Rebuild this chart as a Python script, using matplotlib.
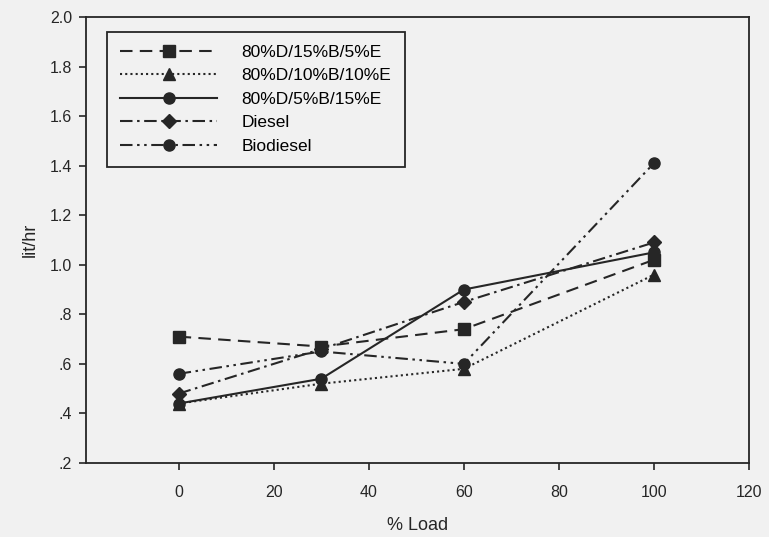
import matplotlib
matplotlib.use("Agg")
import matplotlib.pyplot as plt
from matplotlib.ticker import FuncFormatter

# data
load = [0, 30, 60, 100]
blend_15b_5e = [0.71, 0.67, 0.74, 1.02]
blend_10b_10e = [0.44, 0.52, 0.58, 0.96]
blend_5b_15e = [0.44, 0.54, 0.90, 1.05]
diesel = [0.48, 0.66, 0.85, 1.09]
biodiesel = [0.56, 0.65, 0.60, 1.41]

labels = ["80%D/15%B/5%E", "80%D/10%B/10%E", "80%D/5%B/15%E", "Diesel", "Biodiesel"]
x_ticks = [0, 20, 40, 60, 80, 100, 120]
y_ticks = [0.2, 0.4, 0.6, 0.8, 1.0, 1.2, 1.4, 1.6, 1.8, 2.0]

plt.rcParams["font.family"] = ["Liberation Sans", "DejaVu Sans"]
bg = "#f1f1f1"
ink = "#262626"

fig = plt.figure(figsize=(7.69, 5.37), dpi=100, facecolor=bg)
ax = fig.add_axes([0.1118, 0.1378, 0.8622, 0.8306], facecolor=bg)

styles = [
    dict(marker="s", linestyle=(0, (6, 3.5))),
    dict(marker="^", linestyle=(0, (1, 1.5))),
    dict(marker="o", linestyle="-"),
    dict(marker="D", linestyle=(0, (6, 2.2, 1.2, 2.2)), markersize=7),
    dict(marker="o", linestyle=(0, (6, 2.2, 1.2, 2.2, 1.2, 2.2))),
]
series = [blend_15b_5e, blend_10b_10e, blend_5b_15e, diesel, biodiesel]

for y, lab, st in zip(series, labels, styles):
    kw = dict(color=ink, linewidth=1.5, markersize=8, label=lab)
    kw.update(st)
    ax.plot(load, y, **kw)

ax.set_xlim(-19.5, 120)
ax.set_ylim(0.2, 2.0)
ax.set_xticks(x_ticks)
ax.set_yticks(y_ticks)


def strip_zero(v, pos):
    s = f"{v:.1f}"
    return s[1:] if s.startswith("0") else s


ax.yaxis.set_major_formatter(FuncFormatter(strip_zero))
ax.tick_params(direction="out", length=5, width=1.2, colors=ink, labelsize=11.5)
ax.tick_params(axis="x", pad=11)
ax.tick_params(axis="y", pad=5)
for sp in ax.spines.values():
    sp.set_color(ink)
    sp.set_linewidth(1.3)

ax.set_xlabel("% Load", fontsize=13, color=ink, labelpad=12)
ax.set_ylabel("lit/hr", fontsize=13, color=ink, labelpad=8)

leg = ax.legend(loc="upper left", bbox_to_anchor=(0.032, 0.967), fontsize=12.5,
                handlelength=5.6, handletextpad=1.4, labelspacing=0.48,
                borderpad=0.75, borderaxespad=0, fancybox=False, framealpha=1)
leg.get_frame().set_edgecolor(ink)
leg.get_frame().set_facecolor(bg)
leg.get_frame().set_linewidth(1.3)

fig.savefig("out.png", dpi=100, facecolor=bg)
